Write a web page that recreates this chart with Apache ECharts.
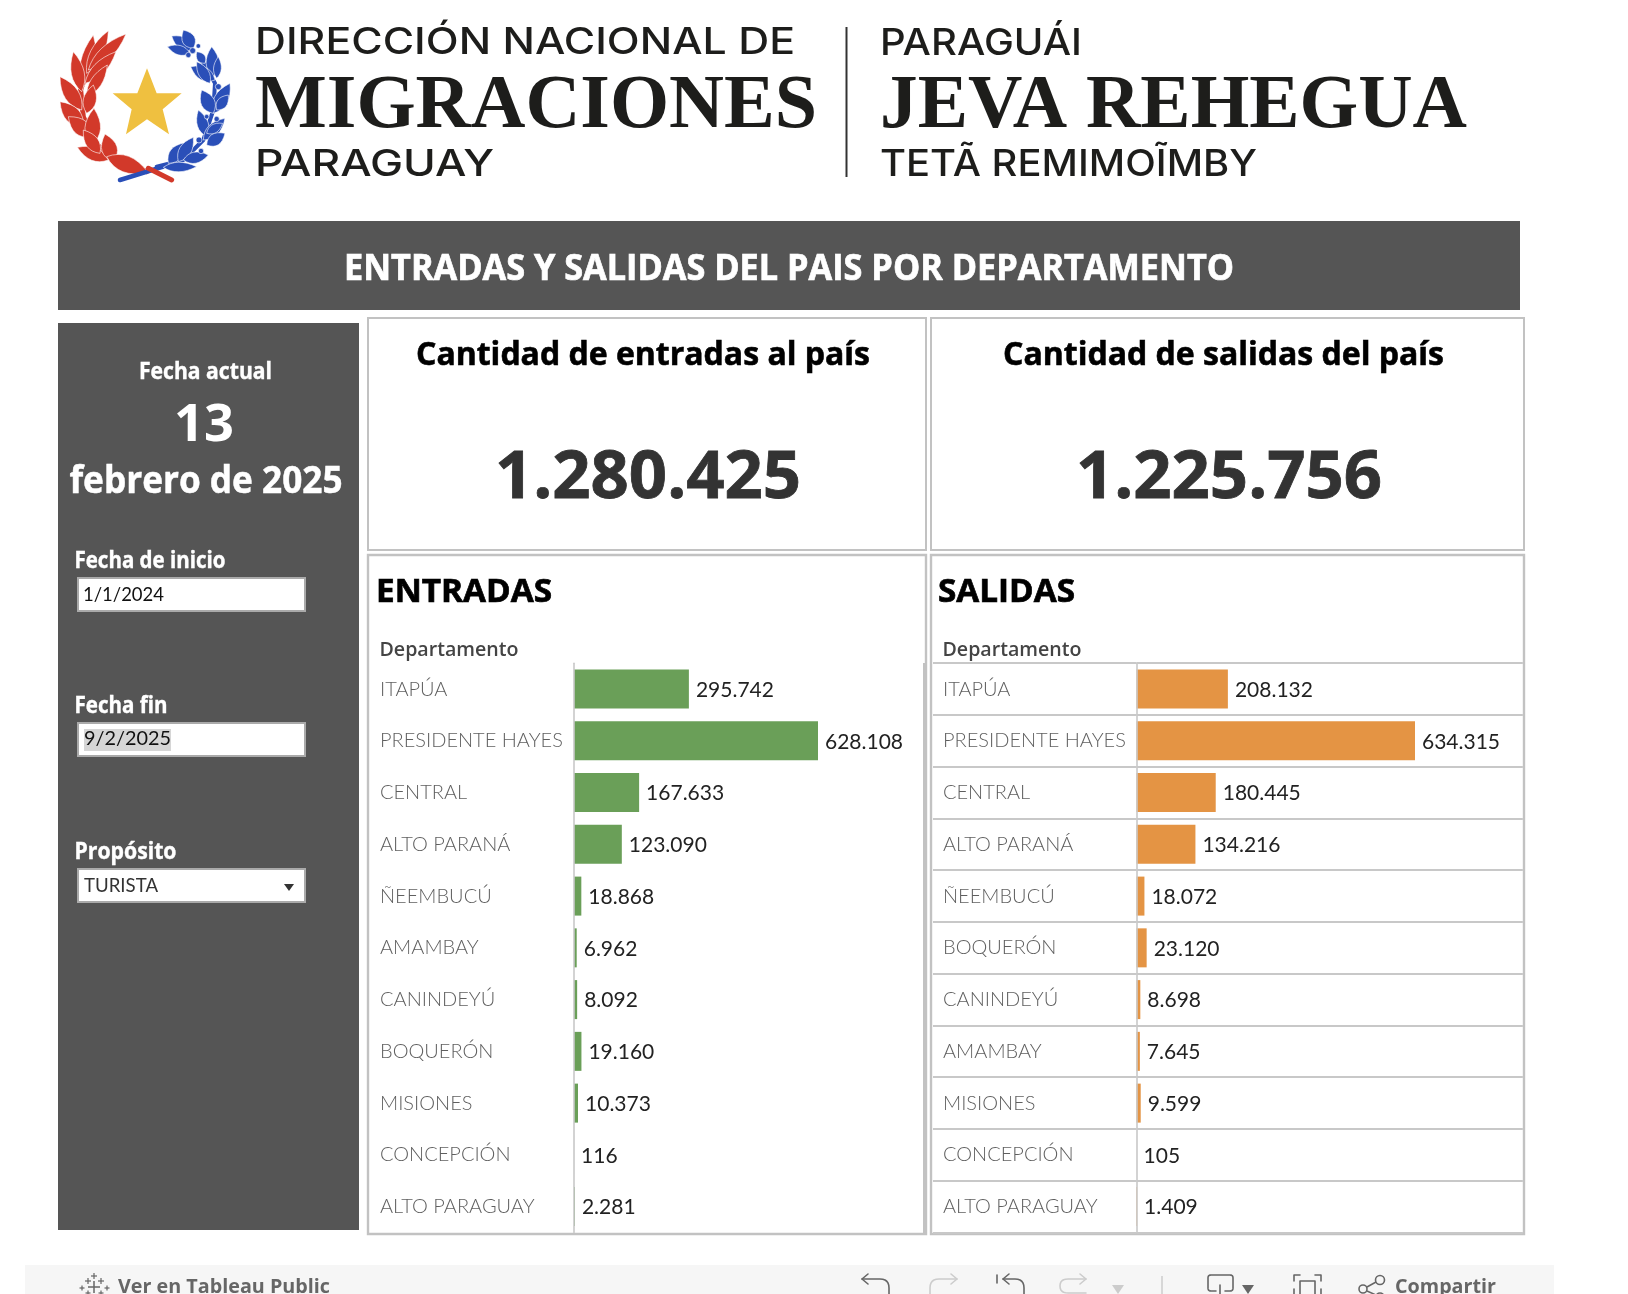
<!DOCTYPE html>
<html>
<head>
<meta charset="utf-8">
<style>html,body{margin:0;padding:0;background:#fff}#c{width:1628px;height:1294px}</style>
<script src="https://cdn.jsdelivr.net/npm/echarts@6/dist/echarts.min.js"></script>
</head>
<body>
<div id="c"></div>
<script>
const categoriesEntradas = ['ITAPÚA','PRESIDENTE HAYES','CENTRAL','ALTO PARANÁ','ÑEEMBUCÚ','AMAMBAY','CANINDEYÚ','BOQUERÓN','MISIONES','CONCEPCIÓN','ALTO PARAGUAY'];
const valuesEntradas = [295742,628108,167633,123090,18868,6962,8092,19160,10373,116,2281];
const categoriesSalidas = ['ITAPÚA','PRESIDENTE HAYES','CENTRAL','ALTO PARANÁ','ÑEEMBUCÚ','BOQUERÓN','CANINDEYÚ','AMAMBAY','MISIONES','CONCEPCIÓN','ALTO PARAGUAY'];
const valuesSalidas = [208132,634315,180445,134216,18072,23120,8698,7645,9599,105,1409];
const totalEntradas = 1280425;
const totalSalidas = 1225756;

const fmt = v => String(v).replace(/\B(?=(\d{3})+(?!\d))/g, '.');
const G = [];
const ctx = document.createElement('canvas').getContext('2d');

// text fitted to a left edge and a target width; heavy thickens the strokes slightly
function T(text, left, cy, font, fill, width, heavy) {
  ctx.font = font;
  const w = ctx.measureText(text).width;
  const style = {text, x:0, y:0, font, fill, align:'left', verticalAlign:'middle', textAlign:'left', textVerticalAlign:'middle'};
  if (heavy) { style.stroke = fill; style.lineWidth = heavy; }
  G.push({type:'text', silent:true, z:10, x:left, y:cy, scaleX: width ? width / w : 1, style});
}
function R(x,y,w,h,fill,stroke,lw,z){
  G.push({type:'rect', silent:true, z:z===undefined?1:z, shape:{x,y,width:w,height:h}, style:{fill:fill||'none', stroke:stroke||'none', lineWidth:lw||0}});
}
function L(x1,y1,x2,y2,stroke,lw,z){
  G.push({type:'line', silent:true, z:z===undefined?1:z, shape:{x1,y1,x2,y2}, style:{stroke, lineWidth:lw}});
}
function P(pts,fill,z,stroke,lw){ G.push({type:'polygon', silent:true, z:z===undefined?5:z, shape:{points:pts}, style:{fill,stroke:stroke||'none',lineWidth:lw||0}}); }
function PL(pts,stroke,lw,z){ G.push({type:'polyline', silent:true, z:z===undefined?5:z, shape:{points:pts}, style:{stroke,lineWidth:lw,fill:'none',lineCap:'round',lineJoin:'round'}}); }
function C(x,y,r,fill,stroke,lw){ G.push({type:'circle', silent:true, z:6, shape:{cx:x,cy:y,r}, style:{fill:fill||'none',stroke:stroke||'none',lineWidth:lw||0}}); }
// small icon outline helper: M/H/V/L/Q commands, drawn as polylines
function Icon(d,stroke,lw){
  const tk = d.match(/[MHVLQ]|-?\d+(\.\d+)?/g); let i=0, cur=null, x=0, y=0, cmd='';
  const flush=()=>{ if(cur&&cur.length>1) PL(cur,stroke,lw); };
  while(i<tk.length){
    if(/[MHVLQ]/.test(tk[i])) cmd=tk[i++];
    if(cmd==='M'){ flush(); x=+tk[i++]; y=+tk[i++]; cur=[[x,y]]; }
    else if(cmd==='H'){ x=+tk[i++]; cur.push([x,y]); }
    else if(cmd==='V'){ y=+tk[i++]; cur.push([x,y]); }
    else if(cmd==='L'){ x=+tk[i++]; y=+tk[i++]; cur.push([x,y]); }
    else if(cmd==='Q'){ const cx=+tk[i++],cy=+tk[i++],ex=+tk[i++],ey=+tk[i++];
      for(let t=1;t<=6;t++){const u=t/6,v=1-u;cur.push([v*v*x+2*v*u*cx+u*u*ex, v*v*y+2*v*u*cy+u*u*ey]);}
      x=ex;y=ey; }
  }
  flush();
}

// ---------- emblem ----------
const zx = v => 50 + v/3, zy = v => 20 + v/3;
function leaf(x0,y0,x1,y1,w,col){
  const X0=zx(x0),Y0=zy(y0),X1=zx(x1),Y1=zy(y1),n=w*1.3/3;
  const dx=X1-X0,dy=Y1-Y0,l=Math.hypot(dx,dy),nx=-dy/l*n,ny=dx/l*n;
  const mx=X0+dx*0.42,my=Y0+dy*0.42, pts=[];
  const q=(cx,cy,ax,ay,bx,by)=>{for(let t=0;t<8;t++){const u=t/8,v=1-u;pts.push([v*v*ax+2*v*u*cx+u*u*bx,v*v*ay+2*v*u*cy+u*u*by]);}};
  q(mx+nx,my+ny,X0,Y0,X1,Y1); q(mx-nx,my-ny,X1,Y1,X0,Y0);
  P(pts,col,5,'#ffffff',0.6);
}
const RED='#d2392a', BLUE='#2a4fb8';
PL([[290,455],[200,420],[135,370],[100,290],[92,210],[120,120]].map(p=>[zx(p[0]),zy(p[1])]),RED,5);
[[100,200,130,45,34],[110,160,175,32,30],[115,150,228,42,30],[105,190,198,95,28],[95,215,70,95,30],[110,230,172,135,26],
 [95,270,30,170,34],[110,280,130,195,30],[100,320,30,245,36],[125,350,55,290,36],[125,375,132,265,36],[175,420,82,382,30],
 [190,425,165,342,36],[150,400,100,330,30],[170,410,295,458,38]].forEach(a=>leaf(a[0],a[1],a[2],a[3],a[4],RED));
PL([[210,480],[340,440]].map(p=>[zx(p[0]),zy(p[1])]),BLUE,4.5);
PL([[295,445],[365,480]].map(p=>[zx(p[0]),zy(p[1])]),RED,5);
PL([[320,440],[400,420],[460,360],[490,270],[495,190],[450,110]].map(p=>[zx(p[0]),zy(p[1])]),BLUE,4);
[[430,90,365,48,28],[430,85,400,30,30],[420,100,352,80,22],[490,170,485,80,30],[495,180,422,140,30],[500,175,505,110,18],
 [480,190,440,125,24],[465,130,440,95,20],[490,280,540,190,32],[490,280,455,210,32],[500,270,535,225,24],
 [470,350,445,270,26],[460,360,525,295,28],[470,375,525,340,28],[470,340,518,310,20],
 [355,430,405,368,30],[385,425,430,352,28],[400,420,475,405,26],[340,442,440,440,22]].forEach(a=>leaf(a[0],a[1],a[2],a[3],a[4],BLUE));
[[428,92,9],[445,78,7],[415,105,8],[505,200,9],[470,290,7],[500,297,8],[447,360,9],[453,393,8]].forEach(b=>C(zx(b[0]),zy(b[1]),b[2]/3,BLUE,'#fff',0.6));
P([[291,145],[320,220],[395,220],[338,268],[357,343],[291,298],[228,343],[245,268],[188,220],[262,220]].map(p=>[zx(p[0]),zy(p[1])]),'#efc040');

// ---------- letterhead ----------
const INK='#1d1d1b', HF='500 37px Inter, Lato, sans-serif', SF='bold 76px "Liberation Serif", serif';
T('DIRECCIÓN NACIONAL DE',255,43,HF,INK,540);
T('MIGRACIONES',255,107,SF,INK,562);
T('PARAGUAY',255,165,HF,INK,239);
L(846.5,27,846.5,177,'#333',2);
T('PARAGUÁI',880,44,HF,INK,202);
T('JEVA REHEGUA',880,107,SF,INK,587);
T('TETÃ REMIMOĨMBY',880,165,HF,INK,377);

// ---------- banner ----------
R(58,221,1462,89,'#555555');
const B='"Open Sans", sans-serif', HB='bold';
T('ENTRADAS Y SALIDAS DEL PAIS POR DEPARTAMENTO',344,270,`${HB} 36px ${B}`,'#ffffff',890,0.7);

// ---------- side panel ----------
R(58,323,301,907,'#555555');
T('Fecha actual',139,372,`${HB} 23px ${B}`,'#fff',133,0.4);
T('13',174,426,`${HB} 52px ${B}`,'#fff',60);
T('febrero de 2025',69.5,482,`${HB} 37px ${B}`,'#fff',273,0.5);
T('Fecha de inicio',74.5,561,`${HB} 23px ${B}`,'#fff',151,0.4);
T('Fecha fin',74.5,706,`${HB} 23px ${B}`,'#fff',93,0.4);
T('Propósito',74.5,852,`${HB} 23px ${B}`,'#fff',102,0.4);
const INP='20px Lato, sans-serif';
[[578,33],[723,33],[869,33]].forEach(b=>R(78,b[0],227,b[1],'#fff','#aaaaaa',2,2));
T('1/1/2024',83,595,INP,'#111',81);
R(84,729,87,22,'#d6d6d6',null,0,3);
T('9/2/2025',84,739,INP,'#111',87);
T('TURISTA',84,886,INP,'#333',74);
P([[284,884],[294,884],[289,891]],'#333');

// ---------- panels ----------
const BORD='#c2c2c2';
R(368,318,558,232,null,BORD,2);
R(931,318,593,232,null,BORD,2);
R(368,555,558,679,null,BORD,2.4);
R(931,555,593,679,null,BORD,2.4);
L(924,663,924,1234,BORD,2);
T('Cantidad de entradas al país',416,356,`${HB} 33px ${B}`,'#000',454,0.6);
T('Cantidad de salidas del país',1003,356,`${HB} 33px ${B}`,'#000',441,0.6);
T(fmt(totalEntradas),495,479,`${HB} 67px ${B}`,'#333',306,0.8);
T(fmt(totalSalidas),1076,479,`${HB} 67px ${B}`,'#333',306,0.8);
T('ENTRADAS',376,593,`${HB} 33px ${B}`,'#000',176,0.7);
T('SALIDAS',938,593,`${HB} 33px ${B}`,'#000',137,0.7);
T('Departamento',379.5,650,`600 20px ${B}`,'#444',139);
T('Departamento',942.5,650,`600 20px ${B}`,'#444',139);

// ---------- footer ----------
R(25,1265,1529,29,'#f6f6f6',null,0,0);
const FC='#666666', FL='#cccccc';
T('Ver en Tableau Public',118,1287,`bold 20px ${B}`,FC,212);
T('Compartir',1395,1287,`bold 20px ${B}`,FC,101);
function plus(x,y,r,lw){ L(x-r,y,x+r,y,FC,lw,5); L(x,y-r,x,y+r,FC,lw,5); }
plus(94,1287,6,1.5);plus(94,1276,3,1.2);plus(88,1281,3,1.2);plus(101,1281,3,1.2);
plus(82,1288,2.5,1.2);plus(107,1288,2.5,1.2);plus(88,1293,2.5,1.2);plus(101,1293,2.5,1.2);
Icon('M862 1279H880Q889 1279 889 1288V1294M868 1274L862 1279L868 1284',FC,1.6);
Icon('M957 1279H939Q930 1279 930 1288V1294M951 1274L957 1279L951 1284',FL,1.6);
Icon('M997 1275V1283M1003 1279H1015Q1024 1279 1024 1288V1294M1009 1274L1003 1279L1009 1284',FC,1.6);
Icon('M1086 1279H1068Q1060 1279 1060 1286Q1060 1293 1068 1293H1086M1080 1274L1086 1279L1080 1284',FL,1.6);
P([[1112,1285],[1124,1285],[1118,1294]],FL);
L(1162,1276,1162,1294,FL,1.5);
Icon('M1216 1291H1211Q1208 1291 1208 1288V1278Q1208 1275 1211 1275H1230Q1233 1275 1233 1278V1288Q1233 1291 1230 1291H1225M1220 1285V1294',FC,1.6);
P([[1242,1285],[1254,1285],[1248,1294]],FC);
Icon('M1294 1281V1275H1300M1315 1275H1321V1281M1294 1289V1294M1321 1289V1294M1300 1294V1281H1315V1294',FC,1.6);
C(1380,1280,4.5,null,FC,1.6);C(1363,1289,4,null,FC,1.6);C(1380,1297,4,null,FC,1.6);
L(1376,1282,1367,1287,FC,1.5,5);L(1367,1291,1376,1295,FC,1.5,5);

// ---------- charts ----------
const AXF = 'Lato, sans-serif';
const kE = 244/628108, kS = 278.5/634315;
const maxE = 890000, maxS = 880000;
const GRID_TOP = 663.2, GRID_H = 569.3;
const gridLine = {color:'#c8c8c8', width:2};

function catAxis(i, cats, margin, rows){
  return {type:'category', gridIndex:i, data:cats, inverse:true, z:4,
    axisLine:{show:true, onZero:false, lineStyle:{color:'#c8c8c8', width:1.6}},
    axisTick:{show:rows, length:margin+10, lineStyle:gridLine, inside:false},
    splitLine:{show:rows, lineStyle:gridLine},
    axisLabel:{color:'#5f5f5f', fontFamily:AXF, fontWeight:300, fontSize:20, align:'left', margin, interval:0, padding:[2,0,0,0]}};
}
function valAxis(i, max){
  return {type:'value', gridIndex:i, min:0, max, show:false, splitLine:{show:false}};
}
function barSeries(i, vals, color){
  return {type:'bar', xAxisIndex:i, yAxisIndex:i, data:vals, barWidth:39, z:2, silent:true,
    itemStyle:{color},
    label:{show:true, position:'right', distance:7, offset:[0,1], color:'#222', fontFamily:AXF, fontSize:21,
      formatter:p=>fmt(p.value)}};
}
const chart = echarts.init(document.getElementById('c'), null, {renderer:'canvas', width:1628, height:1294});
chart.setOption({
  animation:false,
  backgroundColor:'#ffffff',
  graphic:G,
  grid:[
    {left:574, top:GRID_TOP, width:maxE*kE, height:GRID_H},
    {left:1136.5, top:GRID_TOP, width:maxS*kS, height:GRID_H}
  ],
  xAxis:[valAxis(0,maxE), valAxis(1,maxS)],
  yAxis:[catAxis(0,categoriesEntradas,194,false), catAxis(1,categoriesSalidas,193.5,true)],
  series:[barSeries(0,valuesEntradas,'#6a9f58'), barSeries(1,valuesSalidas,'#e49444')]
});
</script>
</body>
</html>
